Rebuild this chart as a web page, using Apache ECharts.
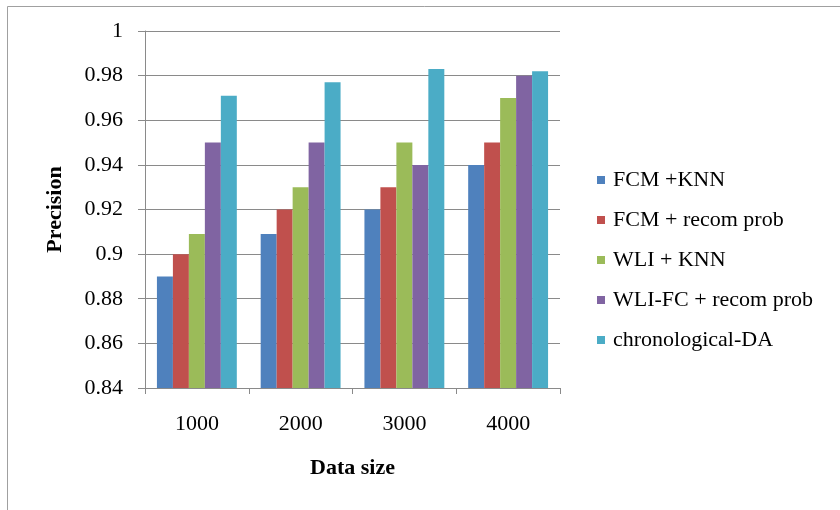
<!DOCTYPE html>
<html>
<head>
<meta charset="utf-8">
<script src="https://cdn.jsdelivr.net/npm/echarts@6/dist/echarts.min.js"></script>
<style>
  html, body { margin: 0; padding: 0; background: #fff; }
  #chart { width: 840px; height: 510px; }
</style>
</head>
<body>
<div id="chart"></div>
<script>
// Precision by data size for each method
const categories = ['1000', '2000', '3000', '4000'];
const seriesNames = ['FCM +KNN', 'FCM + recom prob', 'WLI + KNN', 'WLI-FC + recom prob', 'chronological-DA'];
const fcmKnn = [0.89, 0.909, 0.92, 0.94];
const fcmRecom = [0.90, 0.92, 0.93, 0.95];
const wliKnn = [0.909, 0.93, 0.95, 0.97];
const wliFcRecom = [0.95, 0.95, 0.94, 0.98];
const chronoDA = [0.971, 0.977, 0.983, 0.982];
const yTicks = { min: 0.84, max: 1, step: 0.02 };

const colors = ['#4F81BD', '#C0504D', '#9BBB59', '#8064A2', '#4BACC6'];
const values = [fcmKnn, fcmRecom, wliKnn, wliFcRecom, chronoDA];
const serifFont = '"Liberation Serif", "Times New Roman", serif';
const axisGray = '#8a8a8a';

const chart = echarts.init(document.getElementById('chart'), null, { renderer: 'canvas' });

chart.setOption({
  animation: false,
  backgroundColor: '#ffffff',
  color: colors,
  textStyle: { fontFamily: serifFont, color: '#000' },
  graphic: [{
    type: 'rect',
    shape: { x: 7.5, y: 6.5, width: 900, height: 600 },
    style: { fill: 'none', stroke: '#a0a0a0', lineWidth: 1 },
    silent: true,
    z: -1
  }],
  grid: { left: 145, right: 280, top: 31, bottom: 122, containLabel: false },
  legend: {
    orient: 'vertical',
    left: 597,
    top: 169,
    padding: 0,
    itemWidth: 8,
    itemHeight: 8,
    itemGap: 18,
    icon: 'rect',
    textStyle: { fontFamily: serifFont, fontSize: 22, color: '#000', padding: [0, 0, 0, 3] },
    data: seriesNames
  },
  xAxis: {
    type: 'category',
    data: categories,
    name: 'Data size',
    nameLocation: 'middle',
    nameGap: 69,
    nameTextStyle: { fontFamily: serifFont, fontSize: 22, fontWeight: 'bold', color: '#000' },
    axisLine: { lineStyle: { color: axisGray, width: 1 } },
    axisTick: { show: true, length: 6, lineStyle: { color: axisGray } },
    axisLabel: { fontFamily: serifFont, fontSize: 22, color: '#000', margin: 25 }
  },
  yAxis: {
    type: 'value',
    min: yTicks.min,
    max: yTicks.max,
    interval: yTicks.step,
    name: 'Precision',
    nameLocation: 'middle',
    nameGap: 79,
    nameRotate: 90,
    nameTextStyle: { fontFamily: serifFont, fontSize: 22, fontWeight: 'bold', color: '#000' },
    axisLine: { show: true, lineStyle: { color: axisGray, width: 1 } },
    axisTick: { show: true, length: 7, lineStyle: { color: axisGray } },
    axisLabel: {
      fontFamily: serifFont, fontSize: 22, color: '#000', margin: 22,
      formatter: v => String(parseFloat(v.toFixed(2)))
    },
    splitLine: { show: true, lineStyle: { color: axisGray, width: 1 } }
  },
  series: seriesNames.map((name, i) => ({
    name,
    type: 'bar',
    data: values[i],
    barGap: '0%',
    barCategoryGap: '23%',
    itemStyle: { color: colors[i] }
  }))
});
</script>
</body>
</html>
